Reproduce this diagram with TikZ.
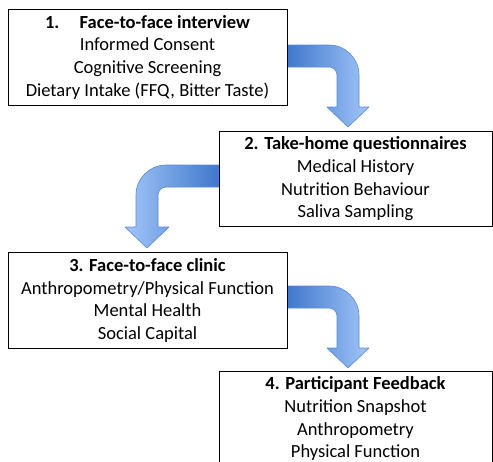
\documentclass[tikz,border=0pt]{standalone}
\usepackage{fontspec}
\setmainfont{Carlito}
\definecolor{adark}{HTML}{3F77CC}
\definecolor{alight}{HTML}{A2C6F8}
\definecolor{aborder}{HTML}{5A8AD2}
\begin{document}
\begin{tikzpicture}[x=1pt,y=1pt,
  box/.style={draw=black, line width=0.9pt, fill=white, align=center,
    font=\fontsize{18.5}{22.7}\selectfont, inner sep=0pt, minimum height=95.5pt},
  bent/.style={draw=aborder, line width=0.6pt, line join=round}]
\useasboundingbox (0,0) rectangle (493,-461);
\clip (0,0) rectangle (493,-461);
% bent arrows
\shade[bent, left color=adark, right color=alight]
  (287,-45) -- (329,-45) arc (90:0:30) -- (359,-107) -- (369,-107) -- (348,-127)
  -- (327,-107) -- (337,-107) -- (337,-75) arc (0:90:8) -- (287,-67) -- cycle;
\shade[bent, left color=alight, right color=adark]
  (219,-165) -- (166,-165) arc (90:180:30) -- (136,-227) -- (125,-227) -- (147,-248)
  -- (169,-227) -- (158,-227) -- (158,-195) arc (180:90:8) -- (219,-187) -- cycle;
\shade[bent, left color=adark, right color=alight]
  (287,-286) -- (329,-286) arc (90:0:30) -- (359,-348) -- (369,-348) -- (348,-368)
  -- (327,-348) -- (337,-348) -- (337,-316) arc (0:90:8) -- (287,-308) -- cycle;
% boxes
\node[box, minimum width=279pt] (b1) at (147.5,-57.25)
  {\textbf{1.\hspace{1.1em}Face-to-face interview}\\Informed Consent\\Cognitive Screening\\Dietary Intake (FFQ, Bitter Taste)};
\node[box, minimum width=273pt] (b2) at (355.5,-179)
  {\textbf{2. Take-home questionnaires}\\Medical History\\Nutrition Behaviour\\Saliva Sampling};
\node[box, minimum width=279pt] (b3) at (147.5,-300.5)
  {\textbf{3. Face-to-face clinic}\\Anthropometry/Physical Function\\Mental Health\\Social Capital};
\node[box, minimum width=273pt] (b4) at (355.5,-418.75)
  {\textbf{4. Participant Feedback}\\Nutrition Snapshot\\Anthropometry\\Physical Function};
\end{tikzpicture}
\end{document}
